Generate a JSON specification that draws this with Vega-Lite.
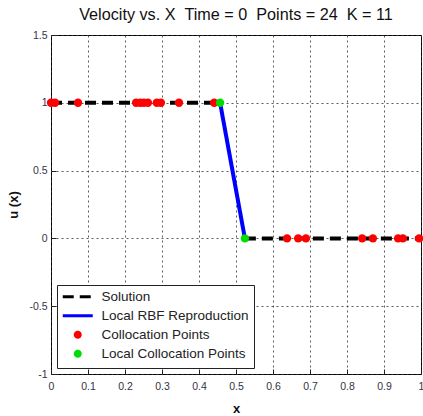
{
  "$schema": "https://vega.github.io/schema/vega-lite/v6.json",
  "width": 370,
  "height": 339,
  "autosize": "none",
  "padding": {"left": 51, "top": 35, "right": 2, "bottom": 42},
  "background": "white",
  "title": {"text": "Velocity vs. X\u00a0\u00a0Time = 0\u00a0\u00a0Points = 24\u00a0\u00a0K = 11", "font": "Liberation Sans", "fontSize": 16.2, "fontWeight": "normal", "color": "#111", "offset": 7},
  "config": {
    "view": {"stroke": "black", "strokeWidth": 1},
    "axis": {"labelFont": "Liberation Sans", "labelFontSize": 10.5, "labelColor": "#333344", "titleFont": "Liberation Sans", "titleFontSize": 13, "titleFontWeight": "bold", "titleColor": "#111", "grid": true, "gridColor": "#333", "gridDash": [2, 3], "gridOpacity": 0.8, "domain": false, "tickColor": "#222", "tickSize": -5, "labelOverlap": false, "labelBound": false, "labelFlush": false}
  },
  "datasets": {
    "sol": [
      {"series": "Solution", "grp": "a", "x": 0, "y": 1},
      {"series": "Solution", "grp": "a", "x": 0.457, "y": 1},
      {"series": "Solution", "grp": "b", "x": 0.524, "y": 0},
      {"series": "Solution", "grp": "b", "x": 1, "y": 0}
    ],
    "rbf": [
      {"series": "Local RBF Reproduction", "x": 0.457, "y": 1},
      {"series": "Local RBF Reproduction", "x": 0.524, "y": 0}
    ],
    "pts": [
      {"series": "Collocation Points", "x": 0.0, "y": 1},
      {"series": "Collocation Points", "x": 0.011, "y": 1},
      {"series": "Collocation Points", "x": 0.073, "y": 1},
      {"series": "Collocation Points", "x": 0.23, "y": 1},
      {"series": "Collocation Points", "x": 0.241, "y": 1},
      {"series": "Collocation Points", "x": 0.251, "y": 1},
      {"series": "Collocation Points", "x": 0.262, "y": 1},
      {"series": "Collocation Points", "x": 0.286, "y": 1},
      {"series": "Collocation Points", "x": 0.297, "y": 1},
      {"series": "Collocation Points", "x": 0.346, "y": 1},
      {"series": "Collocation Points", "x": 0.441, "y": 1},
      {"series": "Collocation Points", "x": 0.638, "y": 0},
      {"series": "Collocation Points", "x": 0.668, "y": 0},
      {"series": "Collocation Points", "x": 0.689, "y": 0},
      {"series": "Collocation Points", "x": 0.841, "y": 0},
      {"series": "Collocation Points", "x": 0.87, "y": 0},
      {"series": "Collocation Points", "x": 0.938, "y": 0},
      {"series": "Collocation Points", "x": 0.951, "y": 0},
      {"series": "Collocation Points", "x": 0.995, "y": 0},
      {"series": "Local Collocation Points", "x": 0.457, "y": 1},
      {"series": "Local Collocation Points", "x": 0.524, "y": 0}
    ]
  },
  "encoding": {
    "x": {"field": "x", "type": "quantitative", "scale": {"domain": [0, 1], "nice": false}, "axis": {"values": [0, 0.1, 0.2, 0.3, 0.4, 0.5, 0.6, 0.7, 0.8, 0.9, 1], "labelExpr": "datum.value + ''", "title": "x", "labelPadding": 12, "titlePadding": 11}},
    "y": {"field": "y", "type": "quantitative", "scale": {"domain": [-1, 1.5], "nice": false}, "axis": {"values": [-1, -0.5, 0, 0.5, 1, 1.5], "labelExpr": "datum.value + ''", "title": "u (x)", "labelPadding": 9, "titlePadding": 8}},
    "color": {"field": "series", "type": "nominal", "scale": {"domain": ["Solution", "Local RBF Reproduction", "Collocation Points", "Local Collocation Points"], "range": ["#000000", "#0000ff", "#ff0000", "#00dd00"]},
      "legend": {"title": null, "orient": "bottom-left", "offset": 6, "padding": 5, "strokeColor": "#222", "fillColor": "white", "labelFont": "Liberation Sans", "labelFontSize": 13.5, "labelColor": "#222", "rowPadding": 1, "gridAlign": "all", "symbolSize": 25, "symbolStrokeWidth": 3, "symbolOffset": 9, "labelOffset": 17}},
    "shape": {"field": "series", "type": "nominal", "scale": {"domain": ["Solution", "Local RBF Reproduction", "Collocation Points", "Local Collocation Points"], "range": ["M-6,0H6", "M-6,0H6", "circle", "circle"]}, "legend": {"title": null}},
    "strokeDash": {"field": "series", "type": "nominal", "scale": {"domain": ["Solution", "Local RBF Reproduction", "Collocation Points", "Local Collocation Points"], "range": [[11, 6], [1, 0], [1, 0], [1, 0]]}, "legend": {"title": null}}
  },
  "layer": [
    {"data": {"name": "sol"}, "mark": {"type": "line", "strokeWidth": 4}, "encoding": {"detail": {"field": "grp"}}},
    {"data": {"name": "rbf"}, "mark": {"type": "line", "strokeWidth": 4}},
    {"data": {"name": "pts"}, "mark": {"type": "point", "filled": true, "size": 70, "opacity": 1}}
  ]
}
